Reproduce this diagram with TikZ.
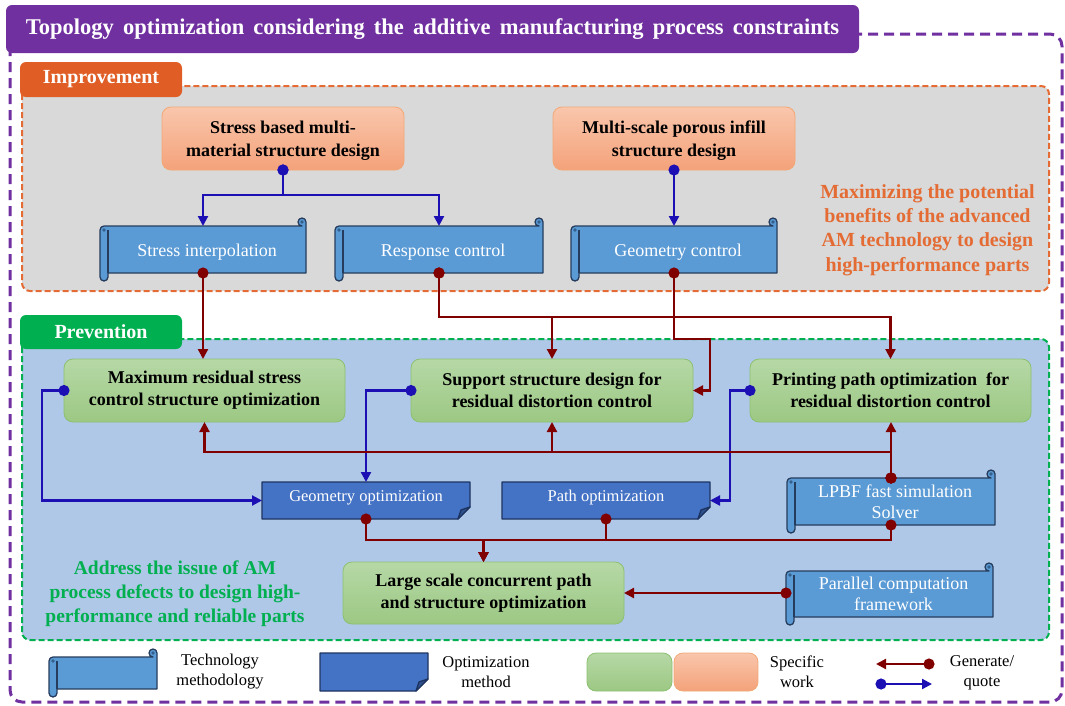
\documentclass[tikz,border=0pt]{standalone}
\usepackage{fontspec}
\setmainfont{Liberation Serif}
\usetikzlibrary{arrows.meta}

\definecolor{purp}{RGB}{112,48,160}
\definecolor{otab}{RGB}{224,94,38}
\definecolor{otext}{RGB}{228,108,52}
\definecolor{gtab}{RGB}{0,176,80}
\definecolor{grayreg}{RGB}{217,217,217}
\definecolor{bluereg}{RGB}{175,200,231}
\definecolor{techfill}{RGB}{91,155,213}
\definecolor{techline}{RGB}{38,60,92}
\definecolor{techdark}{RGB}{52,96,140}
\definecolor{optfill}{RGB}{68,114,196}
\definecolor{optline}{RGB}{30,52,96}
\definecolor{optfold}{RGB}{47,82,143}
\definecolor{gtop}{RGB}{182,216,166}
\definecolor{gbot}{RGB}{156,200,131}
\definecolor{gline}{RGB}{140,192,112}
\definecolor{otop}{RGB}{249,198,172}
\definecolor{obot}{RGB}{244,162,122}
\definecolor{oline}{RGB}{242,168,118}
\definecolor{dred}{RGB}{128,0,0}
\definecolor{dblue}{RGB}{28,16,180}

% lower a piece of text without changing the space it claims
\newcommand\lowertext[2]{\raisebox{-#1}[\height][\depth]{#2}}

\tikzset{
  scrollline/.style={draw=techline, line width=1.3pt},
  techtext/.style={inner sep=0pt, outer sep=0pt, text=white, align=center,
    font=\fontsize{18}{21}\selectfont},
  opttext/.style={inner sep=0pt, outer sep=0pt, text=white, align=center,
    font=\fontsize{16.5}{20}\selectfont},
  optshape/.style={draw=optline, fill=optfill, line width=1.3pt, line join=round},
  workbox/.style={rounded corners=9pt, inner sep=0pt, outer sep=0pt, align=center,
    text=black, line width=0.8pt, font=\bfseries\fontsize{18}{22}\selectfont},
  greenwork/.style={workbox, draw=gline, top color=gtop, bottom color=gbot},
  orangework/.style={workbox, draw=oline, top color=otop, bottom color=obot,
    font=\bfseries\fontsize{18}{23}\selectfont},
  tabbox/.style={rounded corners=6pt, inner sep=0pt, outer sep=0pt, text=white,
    font=\bfseries\fontsize{20}{24}\selectfont},
  conn/.style={line width=2.2pt, line join=miter,
    arrows={Circle[length=11pt]-Triangle[length=10pt,width=10pt]}, shorten <=-5.5pt},
  gen/.style={conn, draw=dred},
  quote/.style={conn, draw=dblue},
  legendtext/.style={align=center, inner sep=0pt, font=\fontsize{16.5}{20}\selectfont},
}

% scroll-shaped node: name, centre x, centre y, body width, body height, text
\newcommand\techscroll[6]{%
  \pgfmathsetmacro\scXl{#2-#4/2}%
  \pgfmathsetmacro\scXr{#2+#4/2}%
  \pgfmathsetmacro\scYt{#3-#5/2}%
  \pgfmathsetmacro\scYb{#3+#5/2}%
  \draw[scrollline, fill=techfill, line join=round] (\scXl-4,\scYt) -- (\scXr-4,\scYt)
     arc[start angle=90, end angle=360, radius=4] -- (\scXr,\scYb) -- (\scXl,\scYb)
     -- (\scXl,\scYb+4) arc[start angle=0, end angle=180, radius=4]
     -- (\scXl-8,\scYt+4) arc[start angle=180, end angle=270, radius=4] -- cycle;
  \draw[scrollline] (\scXl,\scYt+4) -- (\scXl,\scYb);
  \fill[techdark] (\scXl-4,\scYt+4) circle[radius=1.8];
  \fill[techdark] (\scXr-4,\scYt-4) circle[radius=1.8];
  \node[techtext, minimum width=#4pt, minimum height=#5pt] (#1) at (#2,#3) {#6};
}

% box with a folded lower-right corner: name, centre x, centre y, width, height, text
\newcommand\optbox[6]{%
  \pgfmathsetmacro\obXl{#2-#4/2}%
  \pgfmathsetmacro\obXr{#2+#4/2}%
  \pgfmathsetmacro\obYt{#3-#5/2}%
  \pgfmathsetmacro\obYb{#3+#5/2}%
  \draw[optshape] (\obXl,\obYt) -- (\obXr,\obYt) -- (\obXr,\obYb-12)
     -- (\obXr-12,\obYb) -- (\obXl,\obYb) -- cycle;
  \draw[optshape, fill=optfold] (\obXr,\obYb-12) -- (\obXr-12,\obYb) -- (\obXr-9,\obYb-9) -- cycle;
  \node[opttext, minimum width=#4pt, minimum height=#5pt] (#1) at (#2,#3) {\lowertext{-3pt}{#6}};
}

\begin{document}
\begin{tikzpicture}[x=1pt, y=-1pt]
\useasboundingbox (0,0) rectangle (1065,705);

% outer frame and title
\draw[purp, line width=3pt, dash pattern=on 10pt off 6pt, rounded corners=12pt]
  (10,34) rectangle (1062,702);
\node[fill=purp, rounded corners=6pt, inner sep=0pt, minimum width=853pt, minimum height=48pt,
  text=white, font=\bfseries\fontsize{22.5}{26}\selectfont] (title) at (432.5,29)
  {\spaceskip=9.2pt plus 1pt Topology optimization considering the additive manufacturing process constraints};

% improvement region
\draw[otext, fill=grayreg, line width=2pt, dash pattern=on 6pt off 3pt, rounded corners=8pt]
  (22,86) rectangle (1049,291);
\node[tabbox, fill=otab, minimum width=162pt, minimum height=35pt] (tabimp) at (101,79.5) {Improvement};

% prevention region
\draw[gtab, fill=bluereg, line width=2pt, dash pattern=on 6pt off 3pt, rounded corners=8pt]
  (22,339) rectangle (1049,640);
\node[tabbox, fill=gtab, minimum width=162pt, minimum height=34pt] (tabprev) at (101,332) {Prevention};

% specific work, improvement side
\node[orangework, minimum width=242pt, minimum height=63pt] (sbm) at (283,138.5)
  {\lowertext{2pt}{\begin{tabular}{@{}c@{}}Stress based multi-\\material structure design\end{tabular}}};
\node[orangework, minimum width=242pt, minimum height=63pt] (msp) at (674,138.5)
  {\lowertext{2pt}{\begin{tabular}{@{}c@{}}Multi-scale porous infill\\structure design\end{tabular}}};

% technology methodologies, improvement side
\techscroll{si}{207}{249.5}{198}{47}{\lowertext{3pt}{Stress interpolation}}
\techscroll{rc}{443}{249.5}{200}{47}{\lowertext{3pt}{Response control}}
\techscroll{gc}{678}{249.5}{198}{47}{\lowertext{3pt}{Geometry control}}

\node[align=center, text=otext, inner sep=0pt, font=\bfseries\fontsize{20}{24.4}\selectfont]
  (impnote) at (927.5,230)
  {Maximizing the potential\\benefits of the advanced\\AM technology to design\\high-performance parts};

% specific work, prevention side
\node[greenwork, minimum width=281pt, minimum height=63pt] (max) at (204.5,390.5)
  {Maximum residual stress\\control structure optimization};
\node[greenwork, minimum width=282pt, minimum height=63pt] (ssd) at (552,390.5)
  {Support structure design for\\residual distortion control};
\node[greenwork, minimum width=281pt, minimum height=63pt] (ppo) at (890.5,390.5)
  {Printing path optimization\ \ for\\residual distortion control};
\node[greenwork, minimum width=281pt, minimum height=62pt] (lsc) at (483.5,593)
  {Large scale concurrent path\\and structure optimization};

% optimization methods
\optbox{go}{366}{500.5}{208}{37}{Geometry optimization}
\optbox{po}{606}{500.5}{208}{37}{Path optimization}

% solvers
\techscroll{lpbf}{895}{501.5}{200}{47}{LPBF fast simulation\\Solver}
\techscroll{par}{893.5}{594}{199}{46}{Parallel computation\\framework}

\node[align=center, text=gtab, inner sep=0pt, font=\bfseries\fontsize{19.5}{24}\selectfont]
  (prevnote) at (175,594)
  {Address the issue of AM\\process defects to design high-\\performance and reliable parts};

% quote links
\draw[quote] (sbm.south) -- ++(0,25) -| ([xshift=-4pt]si.north);
\draw[quote] (sbm.south) -- ++(0,25) -| ([xshift=-4pt]rc.north);
\draw[quote] (msp.south) -- (msp.south |- gc.north);
\draw[quote] (max.west) -- ++(-22,0) |- (go.west);
\draw[quote] (ssd.west) -| (go.north);
\draw[quote] (ppo.west) -- ++(-20,0) |- (po.east);

% generate links
\draw[gen] ([xshift=-4pt]si.south) -- ([xshift=-4pt]si.south |- max.north);
\draw[gen] ([xshift=-4pt]rc.south) -- ++(0,44) -| (ppo.north);
\draw[gen] ([xshift=-4pt]rc.south) -- ++(0,44) -| (ssd.north);
\draw[gen] ([xshift=-4pt]gc.south) -- ++(0,66) -- ++(36,0) |- (ssd.east);
\draw[gen] ([xshift=-4pt]lpbf.north) -- ([xshift=-4pt]lpbf.north |- ppo.south);
\draw[gen] ([xshift=-4pt]lpbf.north) -- ++(0,-26) -| (ssd.south);
\draw[gen] ([xshift=-4pt]lpbf.north) -- ++(0,-26) -| (max.south);
\draw[gen] (go.south) -- ++(0,21) -| (lsc.north);
\draw[gen] (po.south) -- ++(0,21) -| (lsc.north);
\draw[gen] ([xshift=-4pt]lpbf.south) -- ++(0,15) -| (lsc.north);
\draw[gen] ([xshift=-8pt]par.west |- lsc.east) -- (lsc.east);

% legend
\techscroll{lgtech}{107}{673}{100}{32}{}
\node[legendtext] (lgtechtext) at (220,672) {Technology\\methodology};
\optbox{lgopt}{374}{672}{108}{38}{}
\node[legendtext] (lgopttext) at (486,672) {Optimization\\method};
\node[greenwork, minimum width=85pt, minimum height=38pt] (lggreen) at (629.5,672) {};
\node[orangework, minimum width=84pt, minimum height=38pt] (lgorange) at (716,672) {};
\node[legendtext] (lgworktext) at (797,672) {Specific\\work};
\coordinate (lgra) at (929,664);
\coordinate (lgrb) at (876,664);
\coordinate (lgba) at (881,684);
\coordinate (lgbb) at (932,684);
\draw[gen] (lgra) -- (lgrb);
\draw[quote] (lgba) -- (lgbb);
\node[legendtext] (lglinktext) at (982,673) {Generate/\\quote};
\end{tikzpicture}
\end{document}
